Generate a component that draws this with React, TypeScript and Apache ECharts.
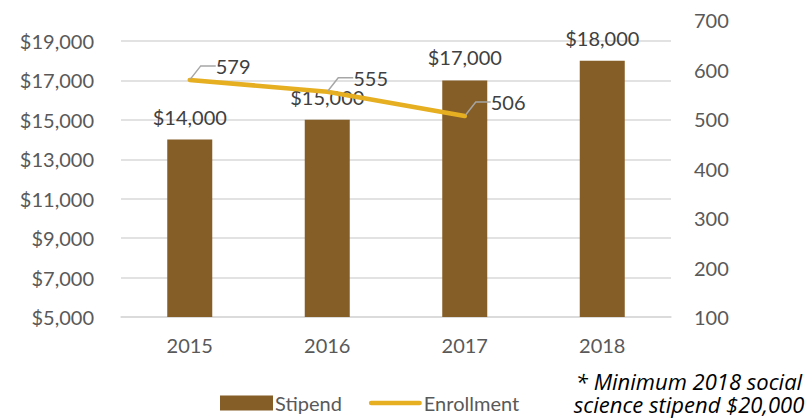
import React, { useEffect, useRef } from "react";
import * as echarts from "echarts";

const years = ["2015", "2016", "2017", "2018"];
const stipend = [14000, 15000, 17000, 18000];
const enrollment: (number | null)[] = [579, 555, 506, null];
const footnoteLines = ["* Minimum 2018 social", "science stipend $20,000"];

const FONT = "Lato, 'Open Sans', sans-serif";
const NOTE_FONT = "'Open Sans', sans-serif";
const GRID_LEFT = 121;
const GRID_RIGHT = 136;
const GRID_BOTTOM = 102;

export default function App() {
  const ref = useRef<HTMLDivElement>(null);
  useEffect(() => {
    document.body.style.margin = "0";
    if (!ref.current) return;
    const chart = echarts.init(ref.current, undefined, { renderer: "svg" });
    const money = (v: number) => "$" + v.toLocaleString("en-US");
    chart.setOption({
      animation: false,
      textStyle: { fontFamily: FONT },
      grid: [
        { left: GRID_LEFT, right: GRID_RIGHT, top: 41, bottom: GRID_BOTTOM },
        { left: GRID_LEFT, right: GRID_RIGHT, top: 20, bottom: GRID_BOTTOM },
      ],
      xAxis: [
        {
          type: "category",
          gridIndex: 0,
          data: years,
          axisLine: { lineStyle: { color: "#d9d9d9", width: 1.5 } },
          axisTick: { show: false },
          axisLabel: { color: "#595959", fontSize: 20, margin: 18, fontFamily: FONT },
        },
        {
          type: "category",
          gridIndex: 1,
          data: years,
          show: false,
        },
      ],
      yAxis: [
        {
          type: "value",
          gridIndex: 0,
          min: 5000,
          max: 19000,
          interval: 2000,
          axisLine: { show: false },
          axisTick: { show: false },
          splitLine: { lineStyle: { color: "#d9d9d9", width: 1.5 } },
          axisLabel: {
            color: "#595959",
            fontSize: 20,
            margin: 27,
            fontFamily: FONT,
            formatter: (v: number) => money(v),
          },
        },
        {
          type: "value",
          gridIndex: 1,
          position: "right",
          min: 100,
          max: 700,
          interval: 100,
          axisLine: { show: false },
          axisTick: { show: false },
          splitLine: { show: false },
          axisLabel: { color: "#595959", fontSize: 20, margin: 23, fontFamily: FONT },
        },
      ],
      legend: {
        left: 215,
        top: 388,
        itemWidth: 53,
        itemHeight: 15,
        itemGap: 27,
        textStyle: { color: "#595959", fontSize: 20, fontFamily: FONT, padding: [0, 0, 0, -3] },
        data: [
          { name: "Stipend", icon: "rect" },
          { name: "Enrollment", icon: "path://M2.5,0L54.5,0A2.5,2.5,0,0,1,54.5,5L2.5,5A2.5,2.5,0,0,1,2.5,0Z" },
        ],
      },
      series: [
        {
          name: "Stipend",
          type: "bar",
          xAxisIndex: 0,
          yAxisIndex: 0,
          data: stipend,
          barWidth: 45,
          itemStyle: { color: "#845E26" },
          label: {
            show: true,
            position: "top",
            distance: 13,
            color: "#404040",
            fontSize: 20,
            fontFamily: FONT,
            formatter: (p: any) => money(p.value),
          },
          z: 2,
        },
        {
          name: "Enrollment",
          type: "line",
          xAxisIndex: 1,
          yAxisIndex: 1,
          data: enrollment,
          showSymbol: true,
          symbol: "circle",
          symbolSize: 2,
          itemStyle: { color: "#E6AF22" },
          lineStyle: { color: "#E6AF22", width: 4.5, cap: "round" },
          label: {
            show: true,
            position: "right",
            distance: 5,
            color: "#404040",
            fontSize: 20,
            fontFamily: FONT,
            padding: [0, 7],
          },
          labelLayout: { dx: 13, dy: -14 },
          labelLine: {
            show: true,
            length2: 15,
            lineStyle: { color: "#a6a6a6", width: 1.5 },
          },
          z: 5,
        },
      ],
      graphic: [
        {
          type: "text",
          x: 689,
          y: 392.5,
          style: {
            text: footnoteLines.join("\n"),
            fill: "#000000",
            font: `italic 400 22px ${NOTE_FONT}`,
            lineHeight: 23,
            textAlign: "center",
            textVerticalAlign: "middle",
          },
        },
      ],
    });
    return () => chart.dispose();
  }, []);
  return <div ref={ref} style={{ width: 807, height: 419 }} />;
}
